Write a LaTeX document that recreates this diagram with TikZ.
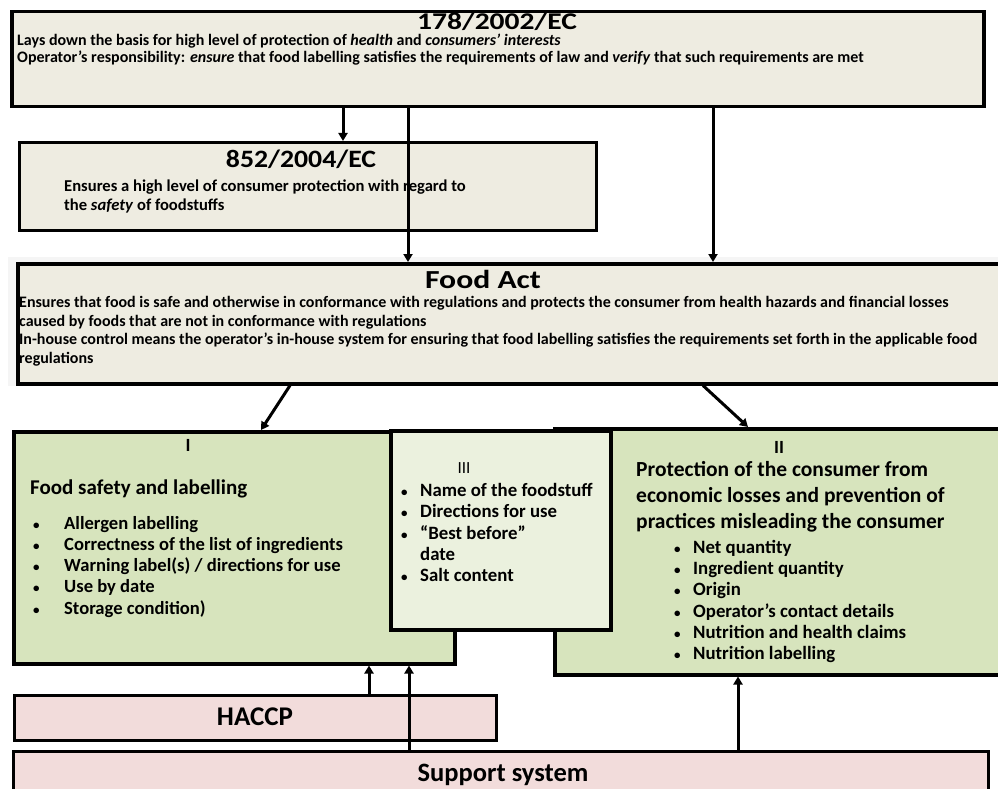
\documentclass[tikz,border=0pt]{standalone}
\usepackage{graphicx}
\usepackage{fontspec}
\setmainfont{Carlito}
\usetikzlibrary{arrows.meta}

\definecolor{lawfill}{HTML}{EEECE1}
\definecolor{safefill}{HTML}{D7E4BD}
\definecolor{commonfill}{HTML}{EBF1DE}
\definecolor{supportfill}{HTML}{F2DCDB}

% small bullet in a box of given width
\newcommand{\bul}[1]{\makebox[#1][l]{\fontsize{13}{13}\selectfont•}}

\begin{document}
\begin{tikzpicture}[x=1pt, y=-1pt,
    box/.style={draw, line width=3.5pt, inner sep=0pt, anchor=north west},
    arr/.style={line width=3pt, -{Triangle[length=8pt, width=9pt]}},
    txt/.style={anchor=north west, inner sep=0pt, align=left, font=\bfseries}]

    % Page frame
    \useasboundingbox (0,0) rectangle (998,789);
    \clip (0,0) rectangle (998,789);

    % Regulation 178/2002/EC
    \node[box, fill=lawfill, minimum width=972pt, minimum height=95pt] (law178) at (10,10) {};
    \node[font=\bfseries\fontsize{24}{26}\selectfont] (t178) at (497,22) {\scalebox{1.23}[1]{178/2002/EC}};
    \node[txt, font=\bfseries\fontsize{16}{17}\selectfont] (b178) at (17,34)
        {Lays down the basis for high level of protection of \textit{health} and \textit{consumers' interests}\\
         Operator's responsibility: \textit{ensure} that food labelling satisfies the requirements of law and \textit{verify} that such requirements are met};

    % Grey shade behind the Food Act
    \fill[black!4] (8,257) rectangle (998,386);

    % Food Act
    \node[box, fill=lawfill, minimum width=990pt, minimum height=120pt] (foodact) at (16,262) {};
    \node[font=\bfseries\fontsize{26}{28}\selectfont] (tact) at (483,279) {\scalebox{1.22}[1]{Food Act}};
    \node[txt, font=\bfseries\fontsize{16}{18.7}\selectfont] (bact) at (19,296)
        {Ensures that food is safe and otherwise in conformance with regulations and protects the consumer from health hazards and financial losses\\
         caused by foods that are not in conformance with regulations\\
         In-house control means the operator's in-house system for ensuring that food labelling satisfies the requirements set forth in the applicable food\\
         regulations};

    % Regulation 852/2004/EC
    \node[box, line width=3pt, fill=lawfill, minimum width=577pt, minimum height=88pt] (law852) at (18,141) {};
    \node[font=\bfseries\fontsize{25}{27}\selectfont] (t852) at (301,159) {\scalebox{1.11}[1]{852/2004/EC}};
    \node[txt, font=\bfseries\fontsize{16.6}{19}\selectfont] (b852) at (64,180)
        {Ensures a high level of consumer protection with regard to\\
         the \textit{safety} of foodstuffs};

    % Arrows out of 178/2002/EC
    \draw[arr] (law178.south -| 343,0) -- (law852.north -| 343,0);
    \draw[arr] (law178.south -| 408,0) -- (foodact.north -| 408,0);
    \draw[arr] (law178.south -| 713,0) -- (foodact.north -| 713,0);

    % Box I: food safety
    \node[box, fill=safefill, minimum width=441pt, minimum height=232pt] (safety) at (12,430) {};
    \node[font=\bfseries\fontsize{18.6}{20}\selectfont] (tI) at (188,445) {I};
    \node[txt, font=\bfseries\fontsize{21}{24}\selectfont] (hI) at (30,480) {Food safety and labelling};
    \node[txt, font=\bfseries\fontsize{18.6}{21.2}\selectfont] (lI) at (33,516)
        {\bul{31pt}Allergen labelling\\
         \bul{31pt}Correctness of the list of ingredients\\
         \bul{31pt}Warning label(s) / directions for use\\
         \bul{31pt}Use by date\\
         \bul{31pt}Storage condition)};

    % Box II: economic protection
    \node[box, fill=safefill, minimum width=460pt, minimum height=246pt] (economy) at (553,427) {};
    \node[font=\bfseries\fontsize{18.6}{20}\selectfont] (tII) at (779,447) {II};
    \node[txt, font=\bfseries\fontsize{21.5}{26}\selectfont] (hII) at (636,461)
        {Protection of the consumer from\\
         economic losses and prevention of\\
         practices misleading the consumer};
    \node[txt, font=\bfseries\fontsize{18.8}{21.2}\selectfont] (lII) at (674,540)
        {\bul{19pt}Net quantity\\
         \bul{19pt}Ingredient quantity\\
         \bul{19pt}Origin\\
         \bul{19pt}Operator's contact details\\
         \bul{19pt}Nutrition and health claims\\
         \bul{19pt}Nutrition labelling};

    % Box III: shared items, on top of I and II
    \node[box, fill=commonfill, minimum width=220pt, minimum height=199pt] (common) at (389,429) {};
    \node[font=\fontsize{17}{19}\selectfont] (tIII) at (464,468) {III};
    \node[txt, font=\bfseries\fontsize{18.8}{21.3}\selectfont] (lIII) at (401,483)
        {\bul{19pt}Name of the foodstuff\\
         \bul{19pt}Directions for use\\
         \bul{19pt}“Best before”\\
         \makebox[19pt][l]{}date\\
         \bul{19pt}Salt content};

    % Arrows out of the Food Act
    \draw[arr] (foodact.south -| 290,0) -- (safety.north -| 261,0);
    \draw[arr] (foodact.south -| 703,0) -- (economy.north -| 748,0);

    % HACCP
    \node[box, line width=3pt, fill=supportfill, minimum width=482pt, minimum height=45pt] (haccp) at (13,694) {};
    \node[font=\bfseries\fontsize{27}{30}\selectfont] (thaccp) at (255,717) {HACCP};

    % Support system
    \node[box, line width=3pt, fill=supportfill, minimum width=975pt, minimum height=60pt] (support) at (12,750) {};
    \node[font=\bfseries\fontsize{26.5}{30}\selectfont] (tsupport) at (503,775) {Support system};

    % Arrows up into I and II
    \draw[arr] (haccp.north -| 369,0) -- (safety.south -| 369,0);
    \draw[arr] (support.north -| 409,0) -- (safety.south -| 409,0);
    \draw[arr] (support.north -| 738,0) -- (economy.south -| 738,0);
\end{tikzpicture}
\end{document}
